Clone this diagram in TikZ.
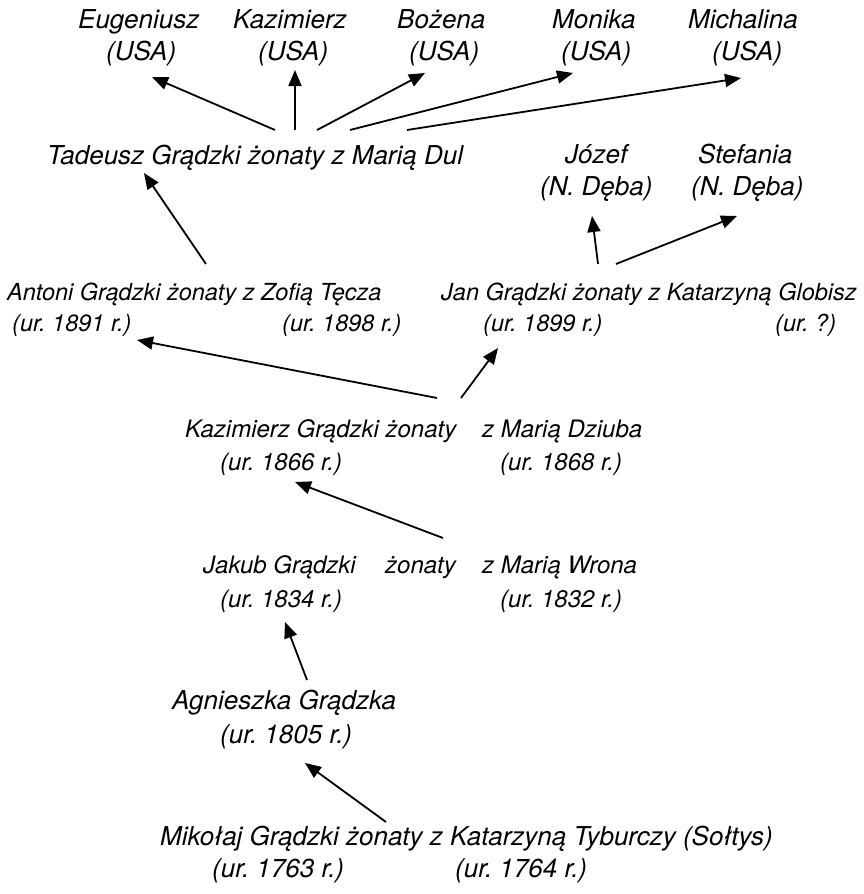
\documentclass[tikz,border=0pt]{standalone}
\usepackage{fontspec}
\setmainfont{TeX Gyre Heros}
\usetikzlibrary{arrows.meta}
\frenchspacing
\begin{document}
\begin{tikzpicture}[x=1pt,y=-1pt,
  lbl/.style={anchor=base west,inner sep=0pt,font=\fontsize{24}{28}\selectfont\itshape},
  mid/.style={anchor=base west,inner sep=0pt,font=\fontsize{23.5}{28}\selectfont\itshape},
  big/.style={anchor=base west,inner sep=0pt,font=\fontsize{26}{30}\selectfont\itshape},
  link/.style={-{Triangle[length=16pt,width=13pt]},line width=1.8pt}]
\useasboundingbox (0,0) rectangle (864,894);

% children of Tadeusz
\node[big] (eug) at (78,28) {Eugeniusz};
\node[big] (eugUSA) at (106,60) {(USA)};
\node[big] (kaz) at (233,28) {Kazimierz};
\node[big] (kazUSA) at (258,60) {(USA)};
\node[big] (boz) at (397,28) {Bożena};
\node[big] (bozUSA) at (409,60) {(USA)};
\node[big] (mon) at (552,28) {Monika};
\node[big] (monUSA) at (561,60) {(USA)};
\node[big] (mich) at (688,28) {Michalina};
\node[big] (michUSA) at (712,60) {(USA)};

\node[big] (tad) at (47,164) {Tadeusz Grądzki żonaty z Marią Dul};

% children of Jan
\node[big] (joz) at (565,163) {Józef};
\node[big] (jozPl) at (540,195) {(N. Dęba)};
\node[big] (stef) at (698,163) {Stefania};
\node[big] (stefPl) at (691,195) {(N. Dęba)};

% generation of Antoni and Jan
\node[mid] (ant) at (7,300) {Antoni Grądzki żonaty z Zofią Tęcza};
\node[mid] (antB) at (12,331) {(ur. 1891 r.)};
\node[mid] (zofB) at (282,331) {(ur. 1898 r.)};
\node[mid] (jan) at (441,300) {Jan Grądzki żonaty z Katarzyną Globisz};
\node[mid] (janB) at (483,331) {(ur. 1899 r.)};
\node[mid] (katB) at (775,331) {(ur. ?)};

% Kazimierz
\node[lbl] (kazim) at (185,437) {Kazimierz Grądzki żonaty};
\node[lbl] (mdz) at (482,437) {z Marią Dziuba};
\node[lbl] (kazimB) at (220,470) {(ur. 1866 r.)};
\node[lbl] (mdzB) at (500,470) {(ur. 1868 r.)};

% Jakub
\node[lbl] (jak) at (203,573) {Jakub Grądzki};
\node[lbl] (jakZ) at (385,573) {żonaty};
\node[lbl] (mwr) at (482,573) {z Marią Wrona};
\node[lbl] (jakB) at (220,607) {(ur. 1834 r.)};
\node[lbl] (mwrB) at (500,607) {(ur. 1832 r.)};

% Agnieszka
\node[big] (agn) at (172,709) {Agnieszka Grądzka};
\node[big] (agnB) at (220,743) {(ur. 1805 r.)};

% Mikołaj
\node[big] (mik) at (160,845) {Mikołaj Grądzki żonaty z Katarzyną Tyburczy (Sołtys)};
\node[big] (mikB) at (212,877) {(ur. 1763 r.)};
\node[big] (tybB) at (455,877) {(ur. 1764 r.)};

% connector ends
\coordinate (tad1) at (275,130); \coordinate (eugIn) at (152,77);
\coordinate (tad2) at (295,130); \coordinate (kazIn) at (295,70);
\coordinate (tad3) at (317,130); \coordinate (bozIn) at (425,73);
\coordinate (tad4) at (350,130); \coordinate (monIn) at (573,73);
\coordinate (tad5) at (407,130); \coordinate (michIn) at (741,78);
\coordinate (antOut) at (206,264); \coordinate (tadIn) at (144,173);
\coordinate (jan1) at (598,264); \coordinate (jozIn) at (592,216);
\coordinate (jan2) at (616,264); \coordinate (stefIn) at (737,216);
\coordinate (kazim1) at (437,398); \coordinate (antIn) at (137,340);
\coordinate (kazim2) at (461,398); \coordinate (janIn) at (498,348);
\coordinate (jakOut) at (443,538); \coordinate (kazimIn) at (295,482);
\coordinate (agnOut) at (307,680); \coordinate (jakIn) at (285,622);
\coordinate (mikOut) at (386,822); \coordinate (agnIn) at (305,763);

\draw[link] (tad1) -- (eugIn);
\draw[link] (tad2) -- (kazIn);
\draw[link] (tad3) -- (bozIn);
\draw[link] (tad4) -- (monIn);
\draw[link] (tad5) -- (michIn);
\draw[link] (antOut) -- (tadIn);
\draw[link] (jan1) -- (jozIn);
\draw[link] (jan2) -- (stefIn);
\draw[link] (kazim1) -- (antIn);
\draw[link] (kazim2) -- (janIn);
\draw[link] (jakOut) -- (kazimIn);
\draw[link] (agnOut) -- (jakIn);
\draw[link] (mikOut) -- (agnIn);
\end{tikzpicture}
\end{document}
